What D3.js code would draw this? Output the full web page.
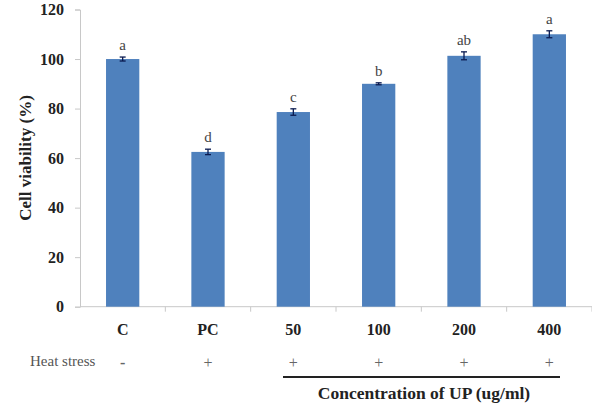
<!DOCTYPE html>
<html>
<head>
<meta charset="utf-8">
<script src="https://cdn.jsdelivr.net/npm/d3@7"></script>
<style>
  body { margin: 0; background: #fff; }
  text { font-family: "Liberation Serif", "Times New Roman", serif; }
</style>
</head>
<body>
<div id="chart"></div>
<script>
var categories = ["C", "PC", "50", "100", "200", "400"];
var viability = [100, 62.5, 78.6, 90, 101.3, 110];
var errors = [0.8, 1.1, 1.3, 0.4, 1.6, 1.4];
var letters = ["a", "d", "c", "b", "ab", "a"];
var heatStress = ["-", "+", "+", "+", "+", "+"];
var yTicks = [0, 20, 40, 60, 80, 100, 120];

var svgWidth = 592;
var svgHeight = 404;

var margin = { top: 9.5, right: 0, bottom: 97.3, left: 80 };
var width = svgWidth - margin.left - margin.right;
var height = svgHeight - margin.top - margin.bottom;

var svg = d3.select("#chart")
  .append("svg")
  .attr("width", svgWidth)
  .attr("height", svgHeight);

var chartGroup = svg.append("g")
  .attr("transform", `translate(${margin.left}, ${margin.top})`);

var xScale = d3.scaleBand()
  .domain(categories)
  .range([0, width])
  .paddingInner(0.61)
  .paddingOuter(0.305);

var yScale = d3.scaleLinear()
  .domain([0, 120])
  .range([height, 0]);

// y axis
var leftAxis = d3.axisLeft(yScale).tickValues(yTicks).tickSize(5).tickPadding(11);
var yAxis = chartGroup.append("g").call(leftAxis);
yAxis.select(".domain").attr("stroke", "#c8c8c8");
yAxis.selectAll(".tick line").attr("stroke", "#c8c8c8");
yAxis.selectAll(".tick text")
  .attr("font-weight", "bold")
  .attr("font-size", "16px")
  .attr("fill", "#222");

// x axis line + ticks between categories
chartGroup.append("line")
  .attr("x1", 0).attr("x2", width)
  .attr("y1", height).attr("y2", height)
  .attr("stroke", "#c8c8c8");

var step = xScale.step();
chartGroup.selectAll(".xtick")
  .data(d3.range(1, categories.length + 1))
  .enter()
  .append("line")
  .attr("x1", d => d * step).attr("x2", d => d * step)
  .attr("y1", height).attr("y2", height + 5)
  .attr("stroke", "#c8c8c8");

// bars
chartGroup.selectAll(".bar")
  .data(viability)
  .enter()
  .append("rect")
  .attr("x", (d, i) => xScale(categories[i]))
  .attr("y", d => yScale(d))
  .attr("width", xScale.bandwidth())
  .attr("height", d => height - yScale(d))
  .attr("fill", "#4f81bd");

// error bars
var errGroup = chartGroup.selectAll(".err")
  .data(viability)
  .enter()
  .append("g")
  .attr("transform", (d, i) => `translate(${xScale(categories[i]) + xScale.bandwidth() / 2}, 0)`);

errGroup.append("line")
  .attr("y1", (d, i) => yScale(d + errors[i]))
  .attr("y2", (d, i) => yScale(d - errors[i]))
  .attr("stroke", "#0a1a50").attr("stroke-width", 1.3);
errGroup.append("line")
  .attr("x1", -3).attr("x2", 3)
  .attr("y1", (d, i) => yScale(d + errors[i]))
  .attr("y2", (d, i) => yScale(d + errors[i]))
  .attr("stroke", "#0a1a50").attr("stroke-width", 1.3);
errGroup.append("line")
  .attr("x1", -3).attr("x2", 3)
  .attr("y1", (d, i) => yScale(d - errors[i]))
  .attr("y2", (d, i) => yScale(d - errors[i]))
  .attr("stroke", "#0a1a50").attr("stroke-width", 1.3);

// significance letters
errGroup.append("text")
  .attr("y", (d, i) => yScale(d + errors[i]) - 7)
  .attr("text-anchor", "middle")
  .attr("font-size", "15px")
  .attr("fill", "#444")
  .text((d, i) => letters[i]);

// category labels
chartGroup.selectAll(".cat")
  .data(categories)
  .enter()
  .append("text")
  .attr("x", d => xScale(d) + xScale.bandwidth() / 2)
  .attr("y", height + 28)
  .attr("text-anchor", "middle")
  .attr("font-weight", "bold")
  .attr("font-size", "16px")
  .attr("fill", "#222")
  .text(d => d);

// heat stress row
svg.append("text")
  .attr("x", 30)
  .attr("y", 366)
  .attr("font-size", "15px")
  .attr("fill", "#555")
  .text("Heat stress");

chartGroup.selectAll(".hs")
  .data(heatStress)
  .enter()
  .append("text")
  .attr("x", (d, i) => xScale(categories[i]) + xScale.bandwidth() / 2)
  .attr("y", 358)
  .attr("text-anchor", "middle")
  .attr("font-size", "16px")
  .attr("font-weight", d => d === "-" ? "bold" : "normal")
  .attr("fill", "#666")
  .text(d => d);

// concentration bracket
svg.append("line")
  .attr("x1", 283).attr("x2", 560)
  .attr("y1", 377).attr("y2", 377)
  .attr("stroke", "#222").attr("stroke-width", 2);

svg.append("text")
  .attr("x", 424)
  .attr("y", 399)
  .attr("text-anchor", "middle")
  .attr("font-weight", "bold")
  .attr("font-size", "17.5px")
  .attr("fill", "#222")
  .text("Concentration of UP (ug/ml)");

// y axis title
svg.append("text")
  .attr("transform", "translate(31, 158) rotate(-90)")
  .attr("text-anchor", "middle")
  .attr("font-weight", "bold")
  .attr("font-size", "17px")
  .attr("fill", "#222")
  .text("Cell  viability (%)");
</script>
</body>
</html>
